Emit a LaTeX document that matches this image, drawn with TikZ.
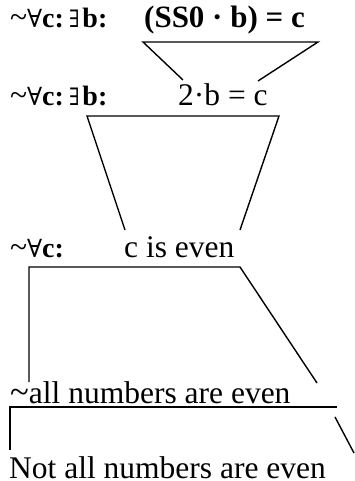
\documentclass[tikz,border=0pt]{standalone}
\usepackage{fontspec}
\usepackage{graphicx}
\setmainfont{Liberation Serif}
\newfontfamily\symf{DejaVu Serif}
\newcommand{\tl}{{\mdseries\scalebox{1.1}[1.1]{\textasciitilde}}}
\newcommand{\tlb}{{\mdseries\fontsize{31.5}{31.5}\selectfont\textasciitilde}}
\newcommand{\fa}{{\symf\mdseries\fontsize{25}{25}\selectfont ∀}}
\newcommand{\ex}{{\symf\mdseries\fontsize{24}{24}\selectfont\scalebox{0.8}[1]{∃}}}
\newcommand{\pfxa}{\makebox[17pt][l]{\tlb}\makebox[15pt][c]{\fa}c:}
\newcommand{\pfxb}{\pfxa\hspace{2.5pt}\makebox[16pt][c]{\ex}b:}
\begin{document}
\begin{tikzpicture}[x=1pt,y=-1pt,
  txt/.style={anchor=base west,inner sep=0pt,font=\fontsize{31.5}{31.5}\selectfont},
  bf/.style={txt,font=\fontsize{31}{31}\selectfont\bfseries},
  pf/.style={txt,font=\fontsize{28}{28}\selectfont\bfseries},
  edge/.style={line width=1.4pt,line cap=butt,line join=miter}]
\useasboundingbox (0,0) rectangle (354,481);
% line 1
\node[pf] (p1) at (10,28) {\pfxb};
\node[bf] (f1) at (144,28) {(SS0 · b) = c};
% line 2
\node[pf] (p2) at (10,106) {\pfxb};
\node[txt] (f2) at (178,106) {2·b = c};
% line 3
\node[pf] (p3) at (10,257) {\pfxa};
\node[txt] (f3) at (124,257) {c is even};
% line 4
\node[txt] (f4) at (10,403) {\tl all numbers are even};
% line 5
\node[txt] (f5) at (9,478) {Not all numbers are even};
% bracket 1
\coordinate (a1) at (143,42); \coordinate (b1) at (318,42);
\coordinate (c1) at (183,80); \coordinate (d1) at (258,81);
\draw[edge] (c1) -- (a1) -- (b1) -- (d1);
% bracket 2
\coordinate (a2) at (87,116); \coordinate (b2) at (279,116);
\coordinate (c2) at (125,230); \coordinate (d2) at (240,230);
\draw[edge] (c2) -- (a2) -- (b2) -- (d2);
% bracket 3
\coordinate (a3) at (29,267); \coordinate (b3) at (240,267);
\coordinate (c3) at (29,382); \coordinate (d3) at (317,383);
\draw[edge] (c3) -- (a3) -- (b3) -- (d3);
% bracket 4
\coordinate (a4) at (10,407); \coordinate (b4) at (337,407);
\coordinate (c4) at (10,450);
\coordinate (e4) at (335,417); \coordinate (d4) at (354,453);
\draw[edge] (c4) -- (a4) -- (b4);
\draw[edge] (e4) -- (d4);
\end{tikzpicture}
\end{document}
